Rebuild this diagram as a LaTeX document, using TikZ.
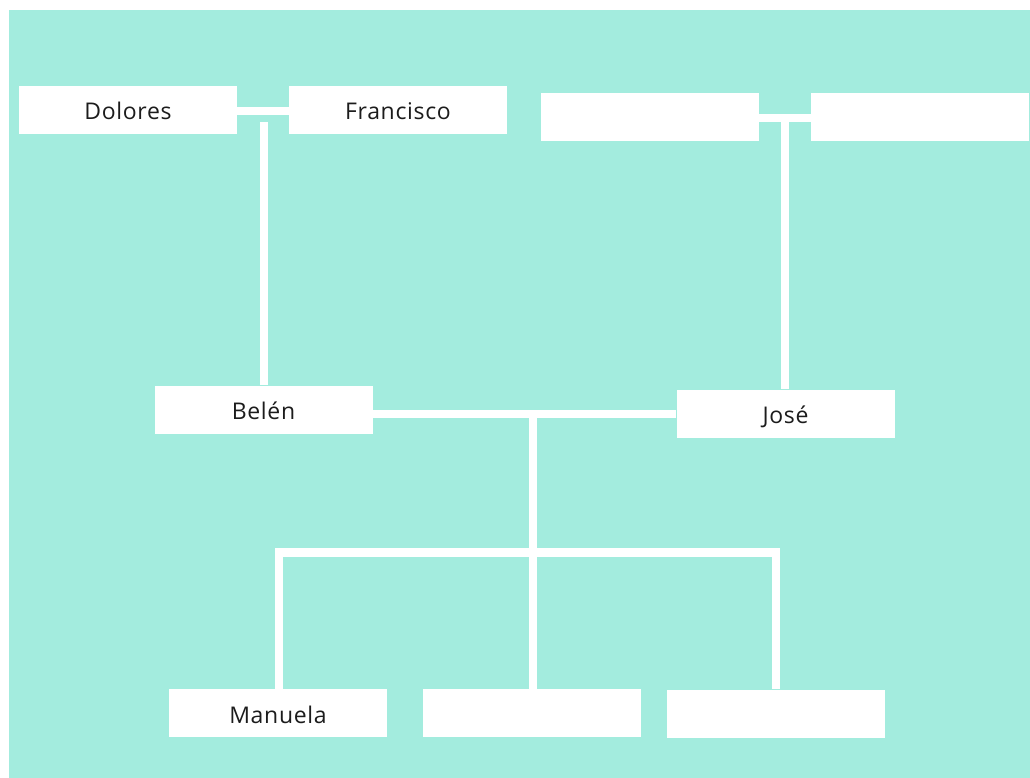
\documentclass[tikz,border=0pt]{standalone}
\usepackage{fontspec}
\setmainfont{Open Sans}[LetterSpace=3]
\usetikzlibrary{positioning,calc}
\definecolor{mint}{RGB}{163,236,222}
\definecolor{ink}{RGB}{28,28,28}

\begin{document}
\begin{tikzpicture}[x=1pt, y=-1pt,
    person/.style={fill=white, minimum width=218pt, minimum height=48pt, inner sep=0pt, text height=24pt, text depth=4pt, font=\fontsize{23}{27}\selectfont, text=ink},
    link/.style={draw=white, line width=8.5pt}
]
\useasboundingbox (0,0) rectangle (1030,778);
\fill[mint] (9,10) rectangle (1030,778);

% grandparents
\node[person] (dol) at (128,110) {Dolores};
\node[person] (fra) at (398,110) {Francisco};
\node[person] (gpa) at (650,117.5) {};
\node[person] (gpb) at (920,117.5) {};
% parents
\node[person] (bel) at (263.5,409.5) {Belén};
\node[person] (jos) at (785.5,413.5) {José};
% children
\node[person] (man) at (278,713) {Manuela};
\node[person] (kid) at (532,713) {};
\node[person] (kie) at (776,713.5) {};

\coordinate (dolfra) at (264,122);
\coordinate (gpab) at (785,122);
\coordinate (kids) at (533,552.5);

\draw[link] (dol.east |- 0,111) -- (fra.west |- 0,111);
\draw[link] (dolfra) -- (bel.north -| dolfra);
\draw[link] (gpa.east |- 0,118) -- (gpb.west |- 0,118);
\draw[link] (gpab) -- (jos.north -| gpab);
\draw[link] (bel.east |- 0,414) -- (jos.west |- 0,414);
\draw[link] (kids |- 0,414) -- (kid.north -| kids);
\draw[link] (man.north -| 279,0) |- (kids) -| (kie.north);
\end{tikzpicture}
\end{document}
